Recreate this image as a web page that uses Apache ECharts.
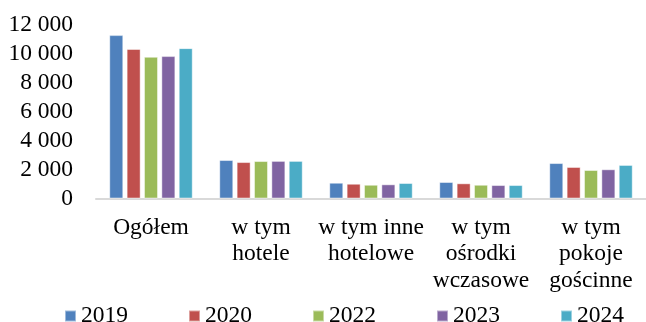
<!DOCTYPE html>
<html>
<head>
<meta charset="utf-8">
<script src="https://cdn.jsdelivr.net/npm/echarts@6/dist/echarts.min.js"></script>
<style>
  html, body { margin: 0; padding: 0; background: #fff; }
  #chart { width: 646px; height: 322px; }
</style>
</head>
<body>
<div id="chart"></div>
<script>
// Accommodation establishments by type, 2019–2024
const categories = [
  'Ogółem',
  'w tym\nhotele',
  'w tym inne\nhotelowe',
  'w tym\nośrodki\nwczasowe',
  'w tym\npokoje\ngościnne'
];
const years = ['2019', '2020', '2022', '2023', '2024'];
const values2019 = [11300, 2660, 1090, 1140, 2450];
const values2020 = [10340, 2520, 1020, 1050, 2180];
const values2022 = [9800, 2590, 950, 950, 1970];
const values2023 = [9850, 2600, 980, 930, 2020];
const values2024 = [10400, 2600, 1070, 930, 2320];
const yTicks = [0, 2000, 4000, 6000, 8000, 10000, 12000];
const colors = ['#4F81BD', '#C0504D', '#9BBB59', '#8064A2', '#4BACC6'];

const seriesValues = [values2019, values2020, values2022, values2023, values2024];
const font = '"Liberation Serif", "Times New Roman", serif';
const fontSize = 23.5;

function spaced(v) {
  return String(v).replace(/\B(?=(\d{3})+(?!\d))/g, ' ');
}

const chart = echarts.init(document.getElementById('chart'), null, { renderer: 'canvas' });
chart.setOption({
  animation: false,
  color: colors,
  textStyle: { fontFamily: font, color: '#000' },
  grid: { left: 96, right: -13, top: 25, bottom: 123.5, containLabel: false },
  legend: {
    data: years,
    top: 304,
    left: 64,
    padding: 0,
    itemWidth: 11,
    itemHeight: 11,
    itemGap: 60,
    icon: 'rect',
    textStyle: { fontFamily: font, fontSize: fontSize, color: '#000' }
  },
  xAxis: {
    type: 'category',
    data: categories,
    axisLine: { lineStyle: { color: '#d9d9d9', width: 2 } },
    axisTick: { show: false },
    axisLabel: {
      interval: 0,
      margin: 16,
      fontFamily: font,
      fontSize: fontSize,
      lineHeight: 26.5,
      color: '#000',
      align: 'center'
    }
  },
  yAxis: {
    type: 'value',
    min: yTicks[0],
    max: yTicks[yTicks.length - 1],
    interval: yTicks[1] - yTicks[0],
    axisLine: { show: false },
    axisTick: { show: false },
    splitLine: { show: false },
    axisLabel: {
      margin: 23,
      fontFamily: font,
      fontSize: fontSize,
      color: '#000',
      padding: [2, 0, 0, 0],
      formatter: v => spaced(v)
    }
  },
  series: years.map((y, i) => ({
    name: y,
    type: 'bar',
    data: seriesValues[i],
    barWidth: 14,
    barGap: '24%',
    itemStyle: {
      color: colors[i],
      borderColor: 'rgba(255,255,255,0.45)',
      borderWidth: 1
    }
  }))
});
</script>
</body>
</html>
